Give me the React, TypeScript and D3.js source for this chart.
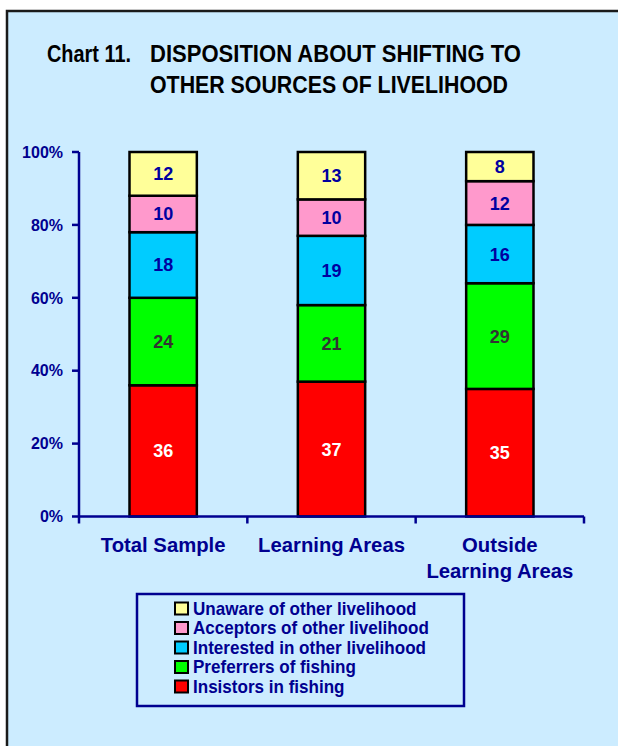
import React from "react";
import * as d3 from "d3";

const categories = ["Total Sample", "Learning Areas", "Outside\nLearning Areas"];
const seriesNames = [
  "Insistors in fishing",
  "Preferrers of fishing",
  "Interested in other livelihood",
  "Acceptors of other livelihood",
  "Unaware of other livelihood",
];
const insistors = [36, 37, 35];
const preferrers = [24, 21, 29];
const interested = [18, 19, 16];
const acceptors = [10, 10, 12];
const unaware = [12, 13, 8];
const seriesColors = ["#FF0000", "#00FF00", "#00CCFF", "#FF99CC", "#FFFF99"];
const labelColors = ["#FFFFFF", "#333333", "#0000A0", "#0000A0", "#0000A0"];
const yTicks = [0, 20, 40, 60, 80, 100];

const NAVY = "#000090";
const SANS = "'Liberation Sans', Arial, sans-serif";

export default function App() {
  const W = 618, H = 746;
  const left = 79, right = 584, y0 = 516.5, y1 = 152;
  const x = d3.scaleBand<string>().domain(categories).range([left, right]).paddingInner(0.6).paddingOuter(0.3);
  const y = d3.scaleLinear().domain([0, 100]).range([y0, y1]);
  const values = [insistors, preferrers, interested, acceptors, unaware];
  const table = categories.map((c, i) => {
    const o: any = { cat: c };
    seriesNames.forEach((s, k) => (o[s] = values[k][i]));
    return o;
  });
  const stacked = d3.stack<any>().keys(seriesNames)(table);
  const boundaries = d3.range(categories.length + 1).map((i) => left + (i * (right - left)) / categories.length);

  const legendOrder = [4, 3, 2, 1, 0];

  return (
    <svg width={W} height={H} style={{ position: "absolute", left: 0, top: 0 }}>
      <rect x={0} y={0} width={W} height={H} fill="#FFFFFF" />
      <rect x={7} y={11} width={W + 50} height={H + 50} fill="#CCECFF" stroke="#1a1a1a" strokeWidth={2.5} />
      <text x={47} y={62} fontFamily={SANS} fontWeight="bold" fontSize={23} fill="#000" textLength={84} lengthAdjust="spacingAndGlyphs">
        Chart 11.
      </text>
      <text x={150} y={62} fontFamily={SANS} fontWeight="bold" fontSize={23} fill="#000" textLength={371} lengthAdjust="spacingAndGlyphs">
        DISPOSITION ABOUT SHIFTING TO
      </text>
      <text x={150} y={93} fontFamily={SANS} fontWeight="bold" fontSize={23} fill="#000" textLength={358} lengthAdjust="spacingAndGlyphs">
        OTHER SOURCES OF LIVELIHOOD
      </text>

      {stacked.map((layer, k) =>
        layer.map((d, i) => {
          const cat = categories[i];
          const bx = x(cat)!;
          const top = y(d[1]);
          const bot = y(d[0]);
          return (
            <g key={k + "-" + i}>
              <rect x={bx} y={top} width={x.bandwidth()} height={bot - top} fill={seriesColors[k]} stroke="#000" strokeWidth={2.5} />
              <text
                x={bx + x.bandwidth() / 2}
                y={(top + bot) / 2}
                dy="0.36em"
                textAnchor="middle"
                fontFamily={SANS}
                fontWeight="bold"
                fontSize={18}
                fill={labelColors[k]}
              >
                {values[k][i]}
              </text>
            </g>
          );
        })
      )}

      <line x1={left} x2={left} y1={y1} y2={y0} stroke={NAVY} strokeWidth={2.5} />
      {yTicks.map((t) => (
        <g key={t}>
          <line x1={72} x2={left} y1={y(t)} y2={y(t)} stroke={NAVY} strokeWidth={2.5} />
          <text x={63} y={y(t)} dy="0.36em" textAnchor="end" fontFamily={SANS} fontWeight="bold" fontSize={16} fill={NAVY}>
            {t + "%"}
          </text>
        </g>
      ))}
      <line x1={left} x2={right} y1={y0} y2={y0} stroke={NAVY} strokeWidth={2.5} />
      {boundaries.map((bx, i) => (
        <line key={i} x1={bx} x2={bx} y1={y0} y2={y0 + 7} stroke={NAVY} strokeWidth={2.5} />
      ))}
      {categories.map((c) => {
        const lines = c.split("\n");
        const cx = x(c)! + x.bandwidth() / 2;
        return (
          <text key={c} x={cx} y={552} textAnchor="middle" fontFamily={SANS} fontWeight="bold" fontSize={20.3} fill={NAVY}>
            {lines.map((l, j) => (
              <tspan key={j} x={cx} dy={j === 0 ? 0 : 26}>
                {l}
              </tspan>
            ))}
          </text>
        );
      })}

      <rect x={137} y={594} width={327} height={112} fill="none" stroke={NAVY} strokeWidth={2.5} />
      {legendOrder.map((k, j) => {
        const by = 615 + j * 19.5;
        return (
          <g key={k}>
            <rect x={175} y={by - 12.5} width={13} height={12} fill={seriesColors[k]} stroke="#000" strokeWidth={2} />
            <text
              x={193}
              y={by}
              fontFamily={SANS}
              fontWeight="bold"
              fontSize={17.5}
              fill={NAVY}
              transform={`translate(193,0) scale(0.975,1) translate(-193,0)`}
            >
              {seriesNames[k]}
            </text>
          </g>
        );
      })}
    </svg>
  );
}
